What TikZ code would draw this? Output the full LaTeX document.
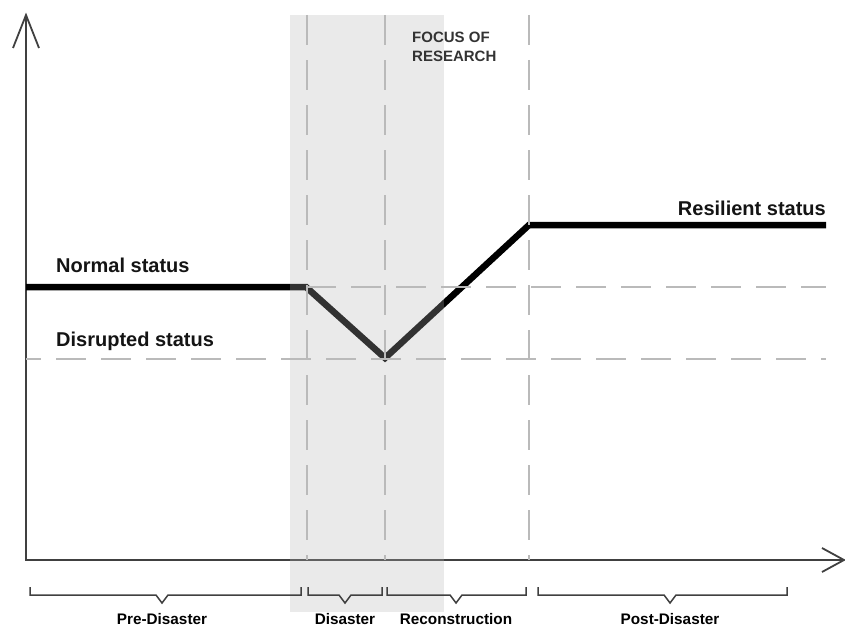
\documentclass[tikz,border=0pt]{standalone}
\usepackage{fontspec}
\setmainfont{Liberation Sans}
\begin{document}
\begin{tikzpicture}[x=1pt,y=-1pt,
  axis/.style={draw=black!75, line width=1.8pt},
  curve/.style={draw=black, line width=6.5pt},
  guide/.style={draw=black!27, line width=1.5pt, dash pattern=on 30pt off 15pt},
  band/.style={fill=black!29, fill opacity=0.28},
  lbl/.style={font=\fontsize{20}{24}\selectfont\bfseries, text=black!92, inner sep=0pt, anchor=base west},
  small/.style={font=\fontsize{15.3}{18}\selectfont\bfseries, inner sep=0pt, anchor=base},
  focuslbl/.style={font=\fontsize{15}{18}\selectfont\bfseries, text=black!80, inner sep=0pt, anchor=base west},
  bracket/.style={draw=black!75, line width=1.5pt}]
\useasboundingbox (0,0) rectangle (845,626);
% axes
\coordinate (o) at (26,560);
\coordinate (ytip) at (26,15);
\coordinate (xtip) at (844,560);
\coordinate (ya) at (13,48);
\coordinate (yb) at (39,48);
\coordinate (xa) at (822,548);
\coordinate (xb) at (822,572);
\draw[axis] (ytip) -- (o) -- (xtip);
\draw[axis] (ya) -- (ytip) -- (yb);
\draw[axis] (xa) -- (xtip) -- (xb);
% status curve
\coordinate (p0) at (26,287);
\coordinate (p1) at (306,287);
\coordinate (p2) at (385,358);
\coordinate (p3) at (529,225);
\coordinate (p4) at (826,225);
\draw[curve] (p0) -- (p1) -- (p2) -- (p3) -- (p4);
% focus band
\fill[band] (290,15) rectangle (444,612);
% guides
\draw[guide] (307,15) -- (307,560);
\draw[guide] (385,15) -- (385,560);
\draw[guide] (529,15) -- (529,560);
\draw[guide] (306,287) -- (826,287);
\draw[guide, dash phase=15pt] (26,359) -- (826,359);
% labels
\node[lbl] (normal) at (56,272) {Normal status};
\node[lbl] (disrupted) at (56,346) {Disrupted status};
\node[lbl, anchor=base east] (resilient) at (826,215) {Resilient status};
\node[focuslbl] (focus1) at (412,42) {FOCUS OF};
\node[focuslbl] (focus2) at (412,62) {RESEARCH};
% brackets
\draw[bracket] (30,587) |- (156,595) -- (162,603) -- (168,595) -| (301,587);
\draw[bracket] (308,587) |- (339,595) -- (345,603) -- (351,595) -| (382,587);
\draw[bracket] (387,587) |- (450,595) -- (456,603) -- (462,595) -| (526,587);
\draw[bracket] (538,587) |- (664,595) -- (670,603) -- (676,595) -| (787,587);
\node[small] (pre) at (162,624) {Pre-Disaster};
\node[small] (dis) at (345,624) {Disaster};
\node[small] (rec) at (456,624) {Reconstruction};
\node[small] (post) at (670,624) {Post-Disaster};
\end{tikzpicture}
\end{document}
